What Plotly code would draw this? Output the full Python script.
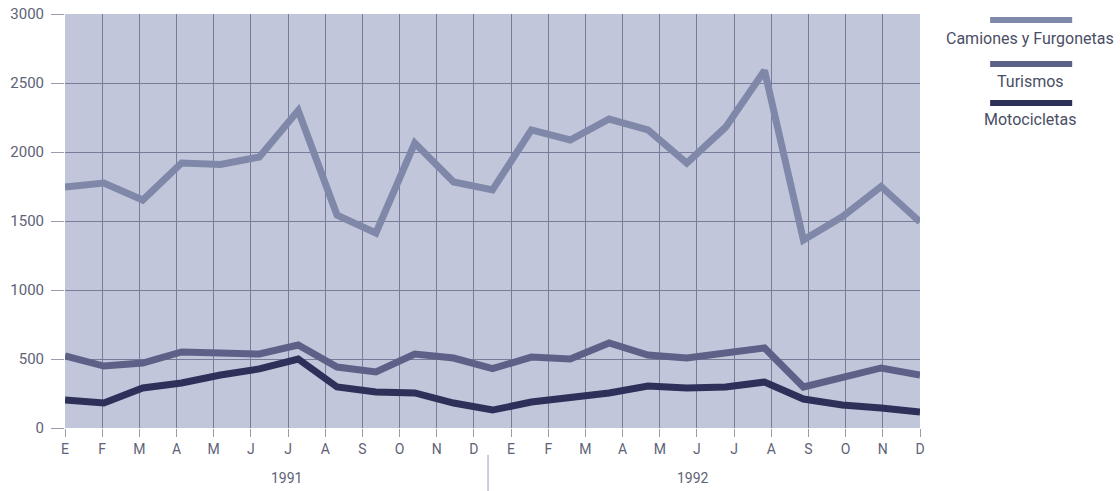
import plotly.graph_objects as go

months = ["E", "F", "M", "A", "M", "J", "J", "A", "S", "O", "N", "D"] * 2
years = ["1991", "1992"]
y_ticks = [0, 500, 1000, 1500, 2000, 2500, 3000]

# 23 plotted points (as drawn in the original, spread across the 24 month slots)
camiones = [1746, 1775, 1652, 1920, 1910, 1964, 2300, 1543, 1413, 2065, 1783, 1725,
            2160, 2087, 2239, 2160, 1920, 2180, 2590, 1362, 1530, 1750, 1493]
turismos = [522, 449, 471, 551, 543, 536, 601, 442, 406, 536, 507, 430,
            514, 500, 616, 529, 507, 543, 580, 297, 370, 435, 384]
motos = [203, 181, 290, 326, 384, 428, 500, 297, 261, 254, 181, 130,
         188, 217, 254, 304, 290, 297, 333, 210, 167, 145, 116]
series_names = ["Camiones y Furgonetas", "Turismos", "Motocicletas"]
series_vals = [camiones, turismos, motos]
colors = ["#8088a9", "#5d6187", "#2d3058"]

idx = list(range(len(camiones)))
txt_color = "#5e6277"
font = "Roboto, Arial, sans-serif"

fig = go.Figure()
for name, vals, col in zip(series_names, series_vals, colors):
    fig.add_trace(go.Scatter(x=idx, y=vals, mode="lines", name=name,
                             line=dict(color=col, width=7), xaxis="x2",
                             showlegend=False))

fig.update_layout(
    width=1120, height=491,
    margin=dict(l=65, r=200, t=14, b=63),
    paper_bgcolor="white",
    plot_bgcolor="#c1c6da",
    font=dict(family=font, color=txt_color, size=14),
    xaxis=dict(range=[0, 23], tickvals=list(range(24)), ticktext=months,
               showgrid=True, gridcolor="#777c98", gridwidth=1.3,
               ticks="outside", ticklen=8, tickcolor="#9a9db0", tickwidth=1,
               zeroline=False, showline=False, automargin=False,
               tickfont=dict(size=14, color=txt_color)),
    xaxis2=dict(range=[0, len(camiones) - 1], overlaying="x", visible=False),
    yaxis=dict(range=[0, 3000], tickvals=y_ticks, showgrid=True,
               gridcolor="#777c98", gridwidth=1.3, ticks="outside", ticklen=13,
               tickcolor="#9a9db0", tickwidth=1.3, zeroline=False, showline=False,
               automargin=False, ticklabelstandoff=4,
               tickfont=dict(size=15, color=txt_color)),
)

# year labels and separator
fig.add_annotation(x=5.97, y=-0.121, xref="x", yref="paper", text=years[0],
                   xanchor="center", yanchor="middle", showarrow=False,
                   font=dict(size=14, color=txt_color))
fig.add_annotation(x=16.9, y=-0.121, xref="x", yref="paper", text=years[1],
                   xanchor="center", yanchor="middle", showarrow=False,
                   font=dict(size=14, color=txt_color))
fig.add_shape(type="line", xref="x", yref="paper", x0=11.38, x1=11.38,
              y0=-0.065, y1=-0.16, line=dict(color="#9a9db0", width=1))

# legend: swatch line above centered label
leg_line_y = [0.9855, 0.879, 0.785]
leg_text_y = [0.942, 0.838, 0.744]
for name, col, ly, ty in zip(series_names, colors, leg_line_y, leg_text_y):
    fig.add_shape(type="line", xref="paper", yref="paper", x0=1.082, x1=1.178,
                  y0=ly, y1=ly, line=dict(color=col, width=6))
    fig.add_annotation(x=1.1287, y=ty, xref="paper", yref="paper",
                       text=name, showarrow=False, xanchor="center",
                       yanchor="middle", font=dict(size=16, color="#4a4e66"))

fig.write_html("out.html", config={"displayModeBar": False},
               post_script="document.body.style.margin='0';document.body.style.padding='0';")
